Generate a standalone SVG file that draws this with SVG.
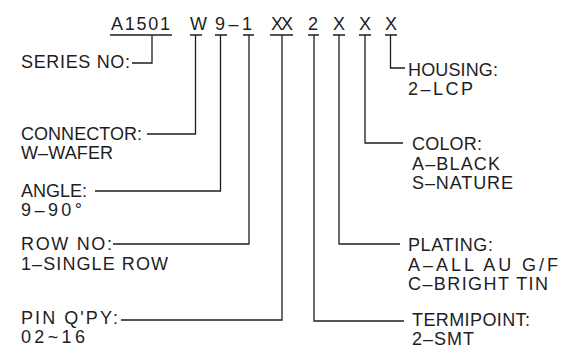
<svg xmlns="http://www.w3.org/2000/svg" width="563" height="358" viewBox="0 0 563 358">
<style>
text{font-family:"Liberation Sans","DejaVu Sans",sans-serif;font-size:18px;fill:#1e1e1e}
.ln{fill:none;stroke:#1e1e1e;stroke-width:1.3}
</style>
<rect width="563" height="358" fill="#fff"/>
<g id="code">
<text x="111" y="30" textLength="59">A1501</text>
<text x="190" y="30" textLength="11">W</text>
<text x="215" y="30" textLength="37">9–1</text>
<text x="271" y="30" textLength="22">XX</text>
<text x="308" y="30" textLength="10">2</text>
<text x="333" y="30" textLength="11">X</text>
<text x="359" y="30" textLength="11">X</text>
<text x="385" y="30" textLength="11">X</text>
</g>
<g id="connectors" class="ln">
<path d="M110 35H172M190 35H202M215 35H227M243 35H254M270 35H293M308 35H319M333 35H345M359 35H371M385 35H397"/>
<path d="M152 35V63H132"/>
<path d="M195.5 35V134H147"/>
<path d="M220.5 35V191H95"/>
<path d="M249 35V244H113"/>
<path d="M282 35V320H121"/>
<path d="M314 35V321H404"/>
<path d="M339 35V244H400"/>
<path d="M365 35V143H403"/>
<path d="M390.5 35V68H405"/>
</g>
<g id="series"><text x="21" y="68" textLength="109">SERIES  NO:</text></g>
<g id="connector"><text x="21" y="140" textLength="121">CONNECTOR:</text><text x="21" y="159" textLength="92">W–WAFER</text></g>
<g id="angle"><text x="21" y="197" textLength="66">ANGLE:</text><text x="21" y="216" textLength="61">9–90°</text></g>
<g id="row"><text x="21" y="250" textLength="91">ROW  NO:</text><text x="21" y="270" textLength="147">1–SINGLE  ROW</text></g>
<g id="pin"><text x="21" y="324" textLength="97">PIN  Q'PY:</text><text x="21" y="343" textLength="64">02~16</text></g>
<g id="housing"><text x="408" y="76" textLength="90">HOUSING:</text><text x="408" y="95" textLength="65">2–LCP</text></g>
<g id="color"><text x="412" y="150" textLength="70">COLOR:</text><text x="412" y="170" textLength="88">A–BLACK</text><text x="412" y="189" textLength="101">S–NATURE</text></g>
<g id="plating"><text x="408" y="251" textLength="85">PLATING:</text><text x="408" y="271" textLength="150">A–ALL  AU  G/F</text><text x="408" y="290" textLength="140">C–BRIGHT  TIN</text></g>
<g id="termipoint"><text x="412" y="326" textLength="118">TERMIPOINT:</text><text x="412" y="345" textLength="62">2–SMT</text></g>
</svg>
